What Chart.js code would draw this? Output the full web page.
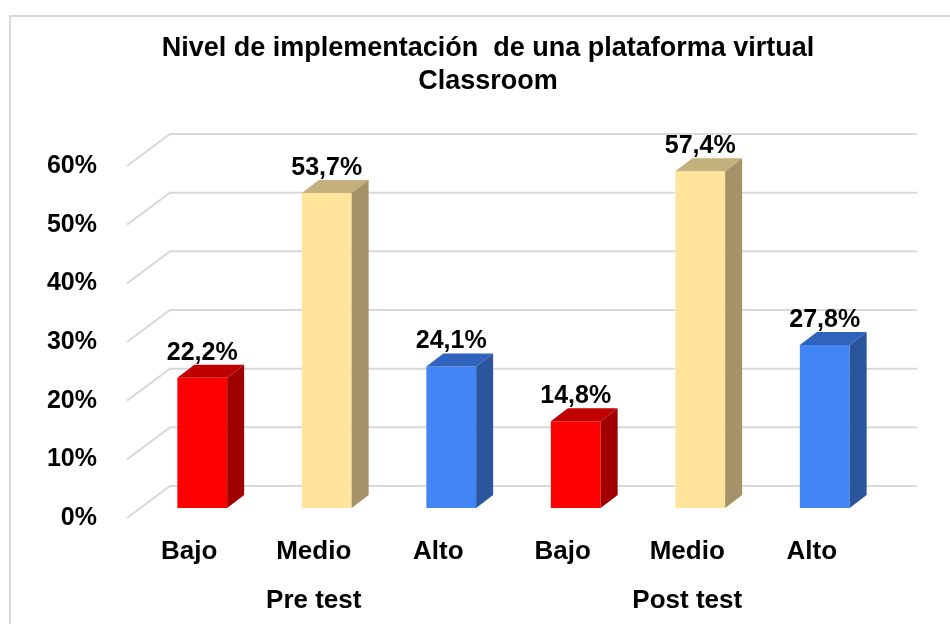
<!DOCTYPE html>
<html>
<head>
<meta charset="utf-8">
<title>Nivel de implementación</title>
<script src="https://cdn.jsdelivr.net/npm/chart.js@4.4.1/dist/chart.umd.min.js"></script>
<style>
    html, body { margin: 0; background: #ffffff; overflow: hidden; }
    #wrap { width: 950px; height: 624px; overflow: hidden; }
</style>
</head>
<body>
<div id="wrap"><canvas id="myChart" width="976" height="624"></canvas></div>
<script>
// data
const levels = ['Bajo', 'Medio', 'Alto'];
const phases = ['Pre test', 'Post test'];
const preTest = [22.2, 53.7, 24.1];
const postTest = [14.8, 57.4, 27.8];
const yTicks = [0, 10, 20, 30, 40, 50, 60];

// colours: front, top, side
const frontColors = ['#ff0000', '#ffe49c', '#4285f4'];
const topColors = ['#c00000', '#c4b07c', '#3064bc'];
const sideColors = ['#a00000', '#a59268', '#2b559c'];

// two level labels: the phase sits under the middle level
var labels = [];
var values = [];
var series = [preTest, postTest];
for (let p = 0; p < phases.length; p++) {
    for (let i = 0; i < levels.length; i++) {
        labels.push(i == 1 ? [levels[i], phases[p]] : [levels[i], '']);
        values.push(series[p][i]);
    }
}
var fronts = labels.map((l, i) => frontColors[i % 3]);

const FONT = '"Liberation Sans", Arial, sans-serif';
const DX = 17, DY = -13;      // bar depth
const FDX = -13, FDY = 10;    // floor front edge
const BDX = 30, BDY = -22;    // back wall

const frame = {
    id: 'frame',
    beforeDraw(chart) {
        const c = chart.ctx;
        c.save();
        c.strokeStyle = '#d9d9d9';
        c.lineWidth = 2;
        c.strokeRect(10, 16, 990, 640);
        c.restore();
    }
};

// 3d style grid: diagonal on the floor side, then flat along the back wall
const wallGrid = {
    id: 'wallGrid',
    beforeDatasetsDraw(chart) {
        const c = chart.ctx;
        const y = chart.scales.y;
        const area = chart.chartArea;
        c.save();
        c.strokeStyle = '#d9d9d9';
        c.lineWidth = 2;
        yTicks.forEach(v => {
            const py = y.getPixelForValue(v);
            c.beginPath();
            c.moveTo(area.left + FDX, py + FDY);
            c.lineTo(area.left + BDX, py + BDY);
            c.lineTo(area.right + BDX, py + BDY);
            c.stroke();
        });
        c.restore();
    }
};

const bars3d = {
    id: 'bars3d',
    afterDatasetsDraw(chart) {
        const c = chart.ctx;
        const meta = chart.getDatasetMeta(0);
        c.save();
        meta.data.forEach((bar, i) => {
            const l = bar.x - bar.width / 2;
            const r = bar.x + bar.width / 2;
            // top
            c.fillStyle = topColors[i % 3];
            c.beginPath();
            c.moveTo(l, bar.y);
            c.lineTo(r, bar.y);
            c.lineTo(r + DX, bar.y + DY);
            c.lineTo(l + DX, bar.y + DY);
            c.closePath();
            c.fill();
            // side
            c.fillStyle = sideColors[i % 3];
            c.beginPath();
            c.moveTo(r, bar.y);
            c.lineTo(r + DX, bar.y + DY);
            c.lineTo(r + DX, bar.base + DY);
            c.lineTo(r, bar.base);
            c.closePath();
            c.fill();
            // value label
            c.fillStyle = '#000000';
            c.font = 'bold 25px ' + FONT;
            c.textAlign = 'center';
            c.textBaseline = 'middle';
            c.fillText(values[i].toFixed(1).replace('.', ',') + '%', bar.x, bar.y - 25);
        });
        c.restore();
    }
};

const ctx = document.getElementById('myChart');

const chart = new Chart(ctx, {
    type: 'bar',
    data: {
        labels: labels,
        datasets: [{
            data: values,
            backgroundColor: fronts,
            borderWidth: 0,
            categoryPercentage: 1,
            barPercentage: 0.4
        }]
    },
    options: {
        responsive: false,
        animation: false,
        layout: {
            padding: 0
        },
        plugins: {
            legend: { display: false },
            tooltip: { enabled: false },
            title: {
                display: true,
                text: ['Nivel de implementación  de una plataforma virtual', 'Classroom'],
                color: '#000000',
                font: { family: FONT, size: 27, weight: 'bold', lineHeight: 1.222 },
                padding: { top: 32.5, bottom: 57.5 }
            }
        },
        scales: {
            y: {
                min: 0,
                max: 60,
                afterFit(scale) { scale.width = 140; },
                grid: { display: false, drawTicks: false },
                border: { display: false },
                ticks: {
                    stepSize: 10,
                    padding: 43,
                    labelOffset: FDY,
                    color: '#000000',
                    font: { family: FONT, size: 25, weight: 'bold' },
                    callback: v => v + '%'
                }
            },
            // empty axis on the right, only keeps room for the back wall
            y2: {
                position: 'right',
                min: 0,
                max: 60,
                afterFit(scale) { scale.width = 89; },
                grid: { display: false, drawTicks: false },
                border: { display: false },
                ticks: { display: false }
            },
            x: {
                afterFit(scale) { scale.height = 116; },
                grid: { display: false, drawTicks: false },
                border: { display: false },
                ticks: {
                    padding: 19.5,
                    labelOffset: -13,
                    maxRotation: 0,
                    autoSkip: false,
                    color: '#000000',
                    font: { family: FONT, size: 26, weight: 'bold', lineHeight: 1.885 }
                }
            }
        }
    },
    plugins: [frame, wallGrid, bars3d]
});
</script>
</body>
</html>
